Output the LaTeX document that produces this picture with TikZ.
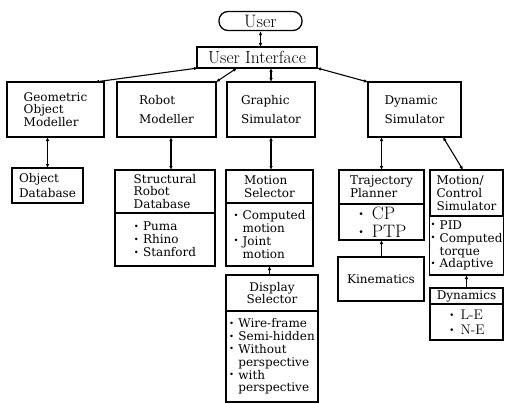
\documentclass[tikz,border=0pt]{standalone}
\usepackage{fontspec}
\usepackage{graphicx}
\usetikzlibrary{positioning,arrows.meta}
\newfontfamily\boxfont{DejaVu Serif}
\newcommand{\itm}{\raisebox{.25ex}{\scalebox{.7}{\textbullet}}\hspace{.35em}}
\newcommand{\hang}{\hphantom{\itm}}
\tikzset{
  blk/.style={draw, line width=1.3pt, outer sep=0pt, inner sep=2pt, align=left,
    font=\boxfont\fontsize{12}{12.8}\selectfont},
  lnk/.style={line width=1.1pt, {Latex[length=4pt,width=3.5pt]}-{Latex[length=4pt,width=3.5pt]}},
  up/.style={line width=1.1pt, {Latex[length=4pt,width=3.5pt]}-}
}

\begin{document}
\begin{tikzpicture}[x=1pt,y=-1pt]
  \useasboundingbox (0,0) rectangle (506,404);

  \node[draw, line width=1.3pt, rounded corners=9pt, minimum width=83, minimum height=19,
    inner sep=0pt, font=\fontsize{18}{18}\selectfont] (user) at (260.5,21) {User};
  \node[blk, minimum width=120, minimum height=21, inner sep=0pt,
    font=\fontsize{17.5}{18}\selectfont] (ui) at (257,57.5) {User Interface};

  \node[blk, minimum width=97, minimum height=55] (gom) at (55.5,109.5) {Geometric\\Object\\Modeller};
  \node[blk, minimum width=99, minimum height=55] (rm) at (166.5,109.5) {Robot\\[6pt]Modeller};
  \node[blk, minimum width=88, minimum height=55] (gs) at (271,109.5) {Graphic\\[6pt]Simulator};
  \node[blk, minimum width=93, minimum height=55] (ds) at (414.5,109.5) {Dynamic\\[6pt]Simulator};

  \node[blk, minimum width=71, minimum height=35] (odb) at (47.5,185.5) {Object\\[2pt]Database};

  \node[blk, minimum width=100, minimum height=43] (srdbh) at (165,191.5) {Structural\\Robot\\Database};
  \node[blk, minimum width=100, minimum height=53, below=0pt of srdbh] (srdbb) {\itm Puma\\\itm Rhino\\\itm Stanford};

  \node[blk, minimum width=87, minimum height=33] (mselh) at (269.5,186.5) {Motion\\Selector};
  \node[blk, minimum width=87, minimum height=63, inner xsep=1pt, below=0pt of mselh] (mselb) {\itm Computed\\\hang motion\\\itm Joint\\\hang motion};

  \node[blk, minimum width=92, minimum height=36, align=center] (dselh) at (272,293) {Display\\Selector};
  \node[blk, minimum width=92, minimum height=91, inner xsep=1pt, below=0pt of dselh] (dselb) {\itm Wire-frame\\\itm Semi-hidden\\\itm Without\\\hang perspective\\\itm with\\\hang perspective};

  \node[blk, minimum width=85, minimum height=34] (trajh) at (381.5,187) {Trajectory\\Planner};
  \node[blk, minimum width=85, minimum height=36, inner ysep=0pt, below=0pt of trajh,
    font=\fontsize{18}{17.5}\selectfont] (trajb) {\itm CP\\\itm PTP};

  \node[blk, minimum width=73, minimum height=46] (mcsh) at (466.5,193) {Motion/\\Control\\Simulator};
  \node[blk, minimum width=73, minimum height=59, inner xsep=1pt, below=0pt of mcsh] (mcsb) {\itm PID\\\itm Computed\\\hang torque\\\itm Adaptive};

  \node[blk, minimum width=86, minimum height=44] (kin) at (381,279) {Kinematics};

  \node[blk, minimum width=73, minimum height=16, inner ysep=0pt] (dynh) at (466.5,296) {Dynamics};
  \node[blk, minimum width=73, minimum height=36, inner ysep=1pt, below=0pt of dynh,
    font=\fontsize{14}{15}\selectfont] (dynb) {\itm L-E\\\itm N-E};

  \draw[lnk] (user.south) -- (user.south |- ui.north);
  \draw[lnk] ([xshift=1pt]ui.south west) -- ([xshift=-9pt]gom.north east);
  \draw[lnk] ([xshift=-20pt]ui.south) -- (rm.north east);
  \draw[lnk] (gs.north |- ui.south) -- (gs.north);
  \draw[lnk] (ui.south east) -- (ds.north west);

  \draw[lnk] (odb.north |- gom.south) -- (odb.north);
  \draw[lnk] ([xshift=6pt]srdbh.north |- rm.south) -- ([xshift=6pt]srdbh.north);
  \draw[lnk] (gs.south) -- (gs.south |- mselh.north);
  \draw[lnk] (trajh.north |- ds.south) -- (trajh.north);
  \draw[lnk] ([xshift=28.5pt]ds.south) -- ([xshift=-3.5pt]mcsh.north);
  \draw[up] (mselb.south) -- (mselb.south |- dselh.north);
  \draw[up] (trajb.south) -- (trajb.south |- kin.north);
  \draw[up] (mcsb.south) -- (dynh.north);
\end{tikzpicture}
\end{document}
